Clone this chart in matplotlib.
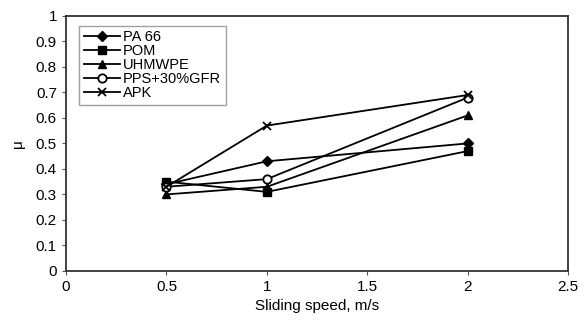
import matplotlib.pyplot as plt

speeds = [0.5, 1, 2]
pa66 = [0.34, 0.43, 0.50]
pom = [0.35, 0.31, 0.47]
uhmwpe = [0.30, 0.33, 0.61]
pps = [0.33, 0.36, 0.68]
apk = [0.33, 0.57, 0.69]

labels = ['PA 66', 'POM', 'UHMWPE', 'PPS+30%GFR', 'APK']
series = [pa66, pom, uhmwpe, pps, apk]
markers = ['D', 's', '^', 'o', 'x']

plt.rcParams['font.family'] = ['Liberation Sans', 'DejaVu Sans']
fig = plt.figure(figsize=(5.84, 3.32), dpi=100)
ax = fig.add_axes([0.113, 0.184, 0.86, 0.768])

for vals, lab, m in zip(series, labels, markers):
    face = 'white' if m == 'o' else 'black'
    size = 5 if m == 'D' else 6
    ax.plot(speeds, vals, color='black', lw=1.3, marker=m, ms=size,
            mfc=face, mec='black', mew=1.3 if m in 'ox' else 1, label=lab)

ax.set_xlim(0, 2.5)
ax.set_ylim(0, 1)
ax.set_xticks([0, 0.5, 1, 1.5, 2, 2.5])
ax.set_xticklabels(['0', '0.5', '1', '1.5', '2', '2.5'])
ax.set_yticks([i / 10 for i in range(11)])
ax.set_yticklabels(['0', '0.1', '0.2', '0.3', '0.4', '0.5', '0.6', '0.7', '0.8', '0.9', '1'])
ax.tick_params(direction='out', length=3, color='#555555', labelsize=11)
ax.set_xlabel('Sliding speed, m/s', fontsize=11)
ax.set_ylabel('μ', fontsize=11, labelpad=8)
for s in ax.spines.values():
    s.set_color('#333333')
    s.set_linewidth(1.3)

leg = ax.legend(loc='upper left', fontsize=10.5, frameon=True, fancybox=False,
                edgecolor='#888888', handlelength=2.5, labelspacing=0.0,
                borderpad=0.3, handletextpad=0.2, bbox_to_anchor=(0.012, 0.99))
leg.get_frame().set_linewidth(1)

fig.savefig('out.png', dpi=100)
